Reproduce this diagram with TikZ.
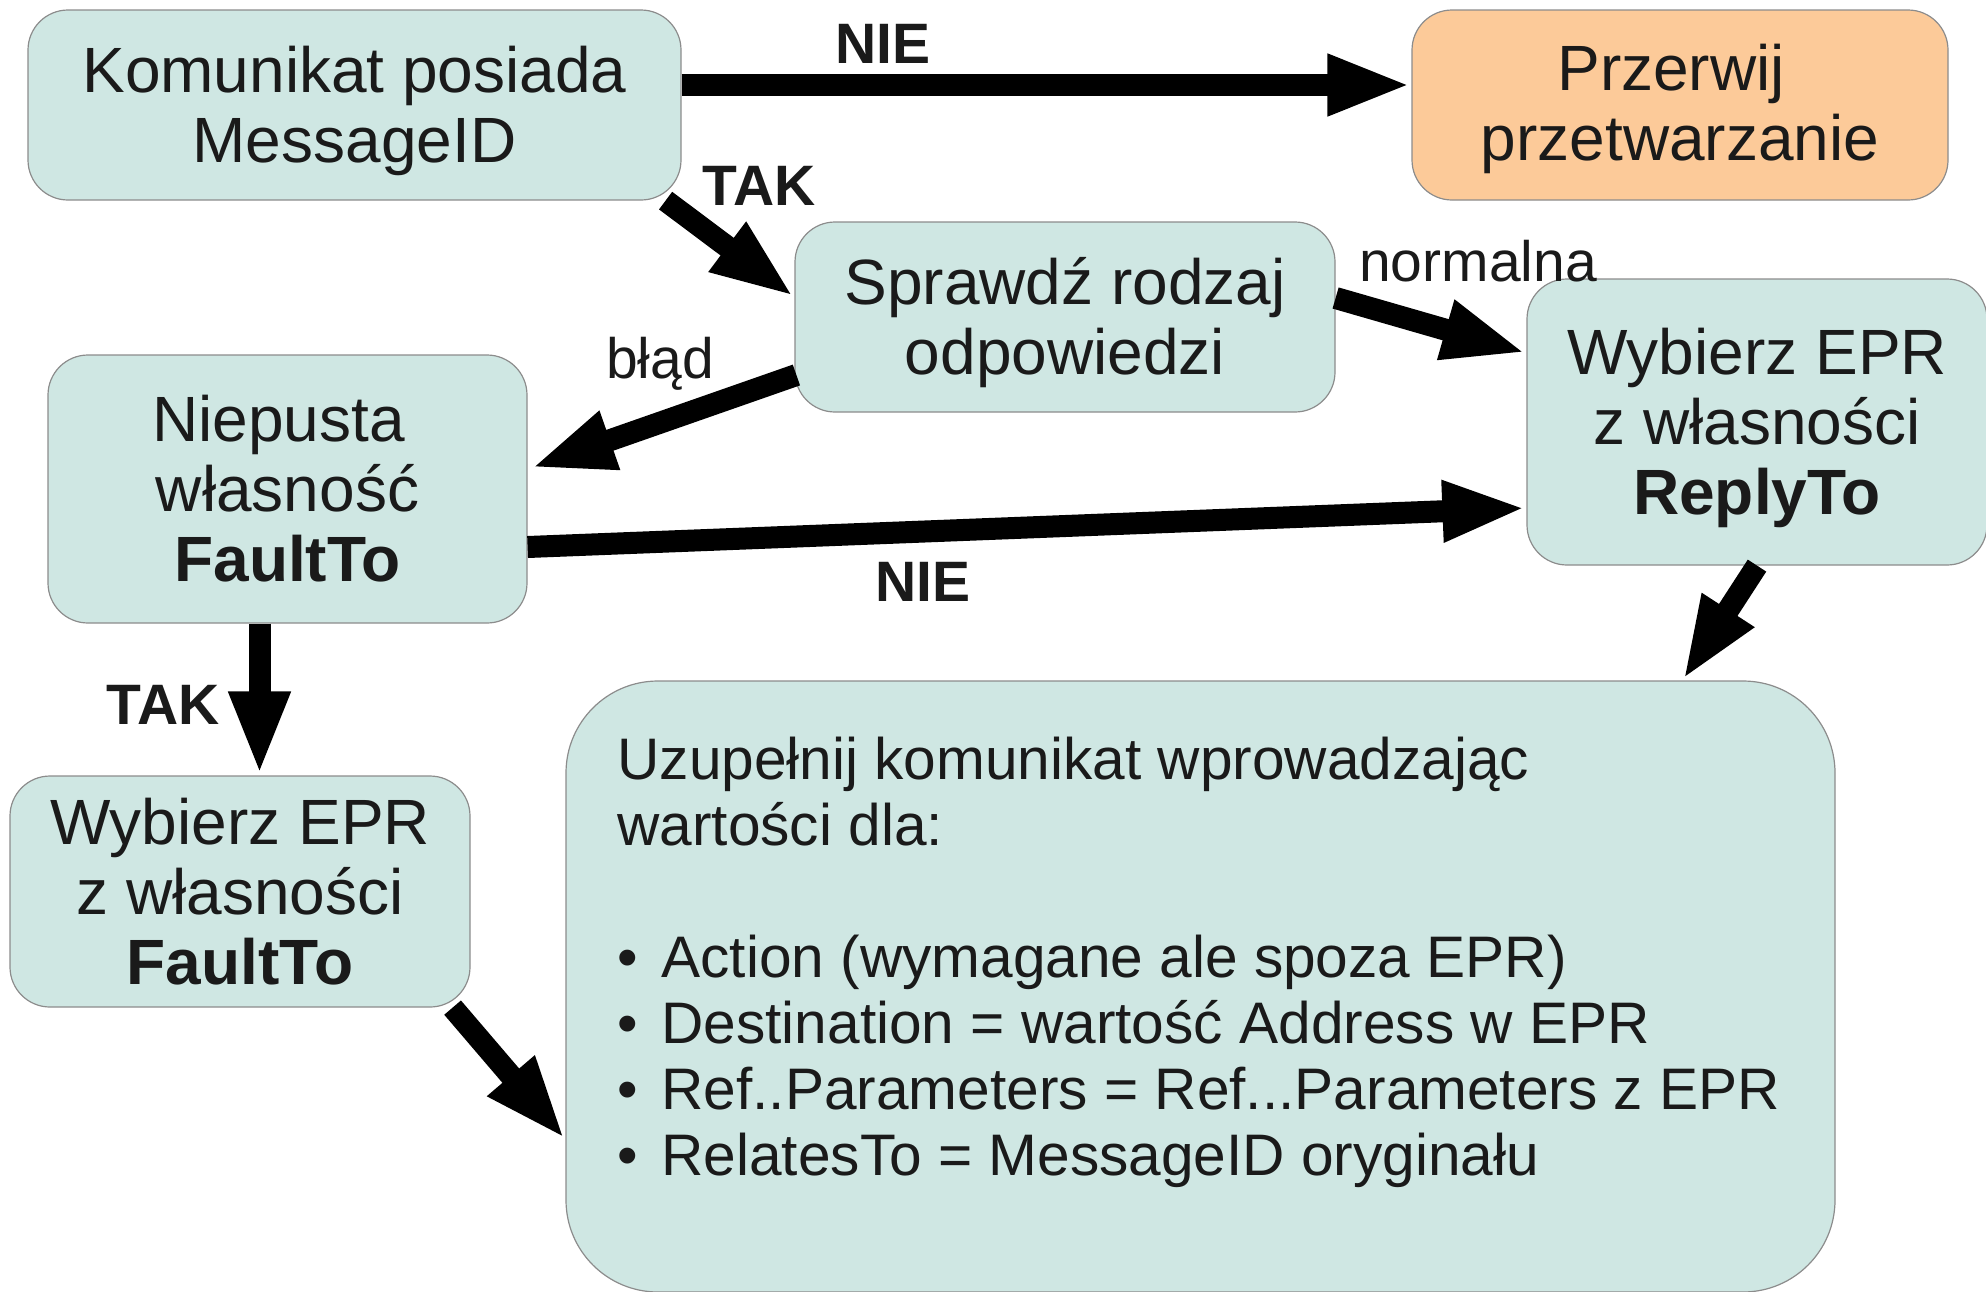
\documentclass[tikz,border=0pt]{standalone}
\usepackage{fontspec}
\setmainfont{Liberation Sans}
\usetikzlibrary{arrows.meta,calc}
\definecolor{boxfill}{RGB}{207,231,227}
\definecolor{boxline}{RGB}{140,140,140}
\definecolor{orangefill}{RGB}{252,202,153}
\definecolor{txt}{RGB}{26,26,26}
\newcommand{\bul}{\makebox[22pt][l]{•}}
\newcommand{\tsp}{\hspace*{.278em}}
\newcommand{\up}[1]{\rule{0pt}{#1}}
\begin{document}
\begin{tikzpicture}[x=0.5pt,y=-0.5pt,
  box/.style={draw=boxline,line width=0.6pt,fill=boxfill,rounded corners=20pt,align=center,
    font=\fontsize{32}{35}\selectfont,text=txt,inner sep=0pt},
  arr/.style={line width=11pt,-{Triangle[length=42pt,width=28pt]}},
  lbl/.style={font=\fontsize{28.5}{30}\selectfont,text=txt,inner sep=0pt},
  blbl/.style={font=\fontsize{28.5}{30}\selectfont\bfseries,text=txt,inner sep=0pt}]
\useasboundingbox (0,0) rectangle (1986,1291);

\node[box,minimum width=326.5pt,minimum height=95pt] (k) at (354.5,105) {\up{29.3pt}Komunikat posiada\\MessageID};
\node[box,fill=orangefill,minimum width=268pt,minimum height=95pt] (p) at (1680,105) {\up{27.3pt}Przerwij\tsp\\przetwarzanie};
\node[box,minimum width=270pt,minimum height=95pt] (s) at (1065,317) {\up{28.8pt}Sprawdź rodzaj\\odpowiedzi};
\node[box,minimum width=239.5pt,minimum height=134pt] (n) at (287.5,489) {Niepusta\tsp\\własność\tsp\\\textbf{FaultTo}};
\node[box,minimum width=230pt,minimum height=143pt] (r) at (1757,422) {\up{29.3pt}Wybierz EPR\\z własności\tsp\\\textbf{ReplyTo}};
\node[box,minimum width=230pt,minimum height=115.5pt] (f) at (240,891.5) {Wybierz EPR\\z własności\tsp\\\textbf{FaultTo}};
\node[box,rounded corners=46pt,minimum width=634.5pt,minimum height=305.5pt] (u) at (1200.5,986.5) {};
\node[anchor=north west,align=left,inner sep=0pt,font=\fontsize{29.3}{33}\selectfont,text=txt] (ut) at (617,737)
  {Uzupełnij komunikat wprowadzając\\
   wartości dla:\\[33pt]
   \bul Action (wymagane ale spoza EPR)\\
   \bul Destination = wartość Address w EPR\\
   \bul Ref..Parameters = Ref...Parameters z EPR\\
   \bul RelatesTo = MessageID oryginału};

\draw[arr] ($(k.east)+(0,-20)$) -- ($(p.west)+(0,-20)$);
\draw[arr] ($(k.south east)+(-16,0)$) -- ($(s.west)+(0,-20)$);
\draw[arr] ($(s.east)+(0,-19)$) -- ($(r.west)+(0,-69)$);
\draw[arr] ($(s.west)+(2,58)$) -- ($(n.east)+(3,-21)$);
\draw[arr] ($(n.east)+(0,58)$) -- ($(r.west)+(0,86)$);
\draw[arr] ($(n.south)+(-28,0)$) -- ($(f.north)+(19.5,0)$);
\draw[arr] ($(r.south)+(0,0)$) -- ($(u.north)+(482,0)$);
\draw[arr] ($(f.south east)+(-18,0)$) -- ($(u.west)+(0,153)$);

\node[blbl] (l1) at (883,44) {NIE};
\node[blbl] (l2) at (759,186) {TAK};
\node[lbl,anchor=base] (l3) at (1478,281) {normalna};
\node[lbl,anchor=base] (l4) at (660,378) {błąd};
\node[blbl] (l5) at (923,582) {NIE};
\node[blbl] (l6) at (163,705) {TAK};
\end{tikzpicture}
\end{document}
